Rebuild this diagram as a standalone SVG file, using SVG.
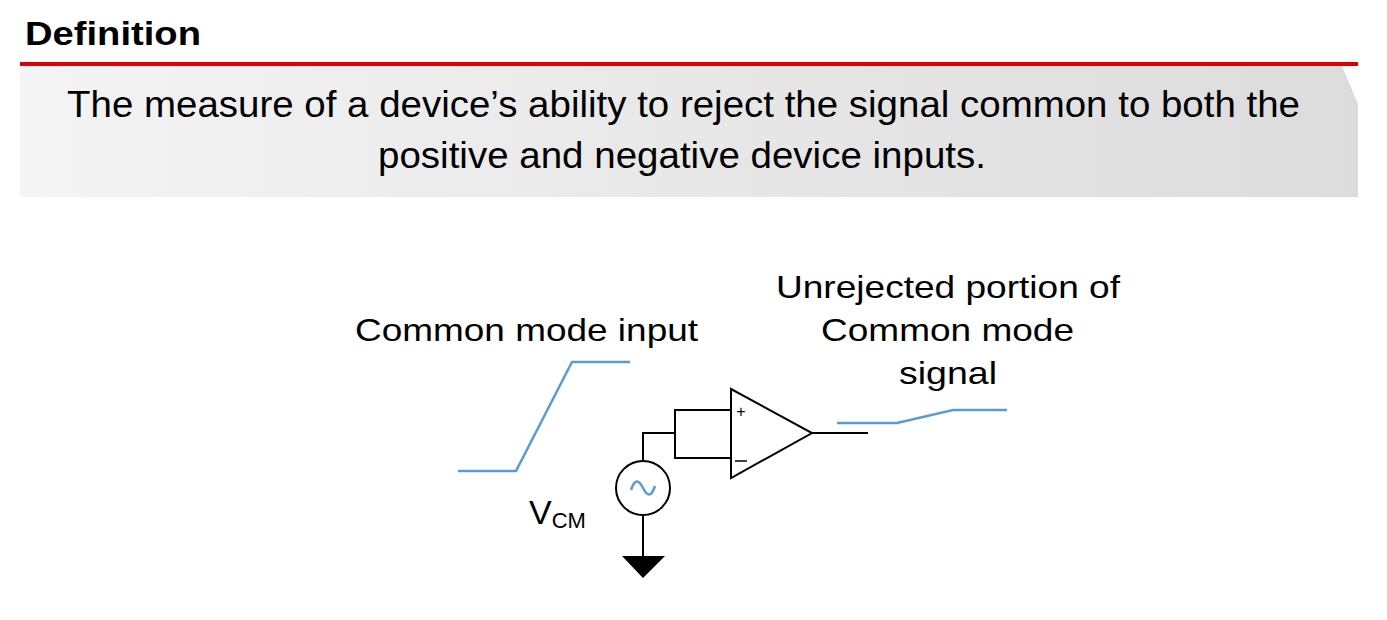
<svg xmlns="http://www.w3.org/2000/svg" width="1387" height="620" viewBox="0 0 1387 620">
<style>
text{font-family:"Liberation Sans",Arial,sans-serif;fill:#000}
.w{stroke:#000;stroke-width:2;fill:none}
.b{stroke:#5b9bd5;stroke-width:2.5;fill:none}
</style>
<defs><linearGradient id="g" x1="0" x2="1"><stop offset="0" stop-color="#f4f4f4"/><stop offset="1" stop-color="#dcdcdc"/></linearGradient></defs>
<rect width="1387" height="620" fill="#fff"/>
<text x="25" y="45" font-size="33" font-weight="bold" textLength="176" lengthAdjust="spacingAndGlyphs">Definition</text>
<polygon points="20,66 1342,66 1358,104 1358,197 20,197" fill="url(#g)"/>
<rect x="20" y="62" width="1338" height="4" fill="#e00000"/>
<text x="67" y="117" font-size="36" textLength="1233" lengthAdjust="spacingAndGlyphs">The measure of a device’s ability to reject the signal common to both the</text>
<text x="378" y="168" font-size="36" textLength="608" lengthAdjust="spacingAndGlyphs">positive and negative device inputs.</text>
<g id="connectors">
<polyline class="w" points="731,410 675,410 675,458 731,458"/>
<polyline class="w" points="675,433 643,433 643,461"/>
<line class="w" x1="643" y1="515" x2="643" y2="556"/>
<line class="w" x1="812" y1="433" x2="868" y2="433"/>
</g>
<g id="opamp">
<polygon class="w" points="731,389 731,478 812,433"/>
<text x="741" y="417" font-size="16" text-anchor="middle">+</text>
<line x1="735" y1="461" x2="747" y2="461" stroke="#000" stroke-width="1.5"/>
</g>
<g id="source">
<circle class="w" cx="643" cy="488" r="27" stroke-width="1.5"/>
<path class="b" d="M631,490 C635,478 639,480 643,488 C647,496 651,498 655,486"/>
<text x="529" y="524" font-size="34">V<tspan font-size="22" dy="4">CM</tspan></text>
</g>
<g id="ground"><polygon points="622,556 665,556 643,578" fill="#000"/></g>
<g id="input-signal">
<polyline class="b" points="458,471 516,471 572,362 630,362"/>
<text x="355" y="341" font-size="32" textLength="343" lengthAdjust="spacingAndGlyphs">Common mode input</text>
</g>
<g id="output-signal">
<polyline class="b" points="837,423 897,423 953,410 1007,410"/>
<text x="776" y="298" font-size="32" textLength="344" lengthAdjust="spacingAndGlyphs">Unrejected portion of</text>
<text x="821" y="341" font-size="32" textLength="253" lengthAdjust="spacingAndGlyphs">Common mode</text>
<text x="899" y="384" font-size="32" textLength="98" lengthAdjust="spacingAndGlyphs">signal</text>
</g>
</svg>
